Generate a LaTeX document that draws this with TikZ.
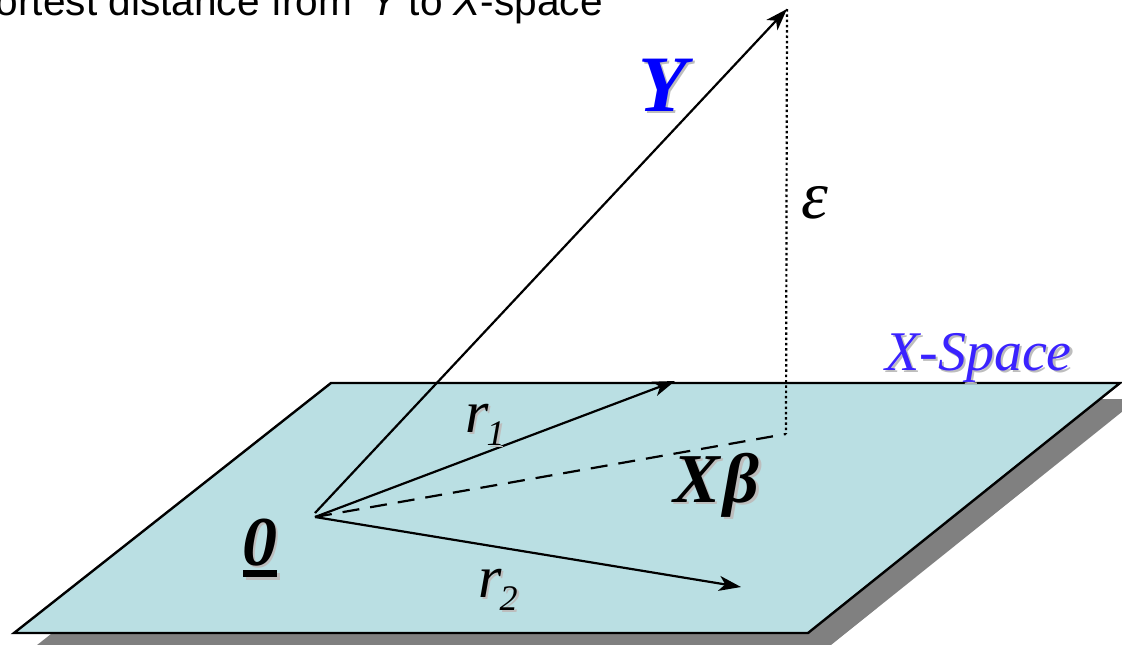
\documentclass[tikz,border=0pt]{standalone}
\usepackage{fontspec}
\setmainfont{Liberation Serif}
\newfontfamily\headfont{Liberation Sans}
\usepackage{xcolor}
\usetikzlibrary{arrows.meta}

\definecolor{planecolor}{HTML}{BADFE3}
\definecolor{planeshadow}{HTML}{808080}
\definecolor{textshadow}{HTML}{BDBDBD}
\definecolor{spacecolor}{HTML}{3A22FF}

\tikzset{
    vec/.style={-{Stealth[length=22pt,width=15pt,inset=6pt]}, line width=2.2pt},
    lbl/.style={inner sep=0pt, anchor=base west},
    lblshadow/.style={text=textshadow, xshift=2.5pt, yshift=-2.5pt},
}

% label with a grey copy behind it: options, name, position, text
\newcommand{\shadowlabel}[4]{
    \node[lbl, #1, lblshadow] at (#3) {#4};
    \node[lbl, #1] (#2) at (#3) {#4};
}
\newcommand{\sized}[1]{\fontsize{#1}{#1}\selectfont}
\newcommand{\rsub}[1]{\sized{60}\itshape r\kern-2pt\raisebox{-13pt}{\sized{36}#1}}

\begin{document}
\begin{tikzpicture}[x=1pt, y=-1pt]
    \clip (0,0) rectangle (1122,645);

    % Draw the plane and its shadow
    \fill[planeshadow] (349,399) -- (1138,399) -- (826,649) -- (32,649) -- cycle;
    \draw[fill=planecolor, line width=2.4pt, line join=miter]
        (331,383) -- (1120,383) -- (808,633) -- (14,633) -- cycle;

    % Ends of the vectors
    \coordinate (origY) at (315,513);
    \coordinate (orig) at (315,517);
    \coordinate (tipY) at (787,9);
    \coordinate (tipOne) at (675,381);
    \coordinate (tipTwo) at (741,587);
    \coordinate (foot) at (786,434);

    % Projection of Y on the plane
    \draw[line width=2.2pt, dash pattern=on 17pt off 11pt] (orig) -- (foot);
    \draw[line width=2.2pt, dash pattern=on 2.5pt off 2.8pt] (tipY) -- (foot);

    % Vectors
    \draw[vec] (origY) -- (tipY);
    \draw[vec] (orig) -- (tipOne);
    \draw[vec] (orig) -- (tipTwo);

    % Annotations
    \node[lbl, anchor=base east] (title) at (603,15)
        {\headfont\sized{40.6}Shortest distance from \,\itshape Y\upshape{} to \itshape X\upshape-space};
    \node[lbl] (eps) at (801,218) {\sized{68}\itshape ε};
    \shadowlabel{text=blue}{labelY}{638,111}{\sized{80}\bfseries\itshape Y}
    \shadowlabel{text=spacecolor}{labelSpace}{885,370}{\sized{56}\itshape X-Space}
    \shadowlabel{}{labelXb}{673,502}{\sized{70}\bfseries\itshape X\kern4ptβ}
    \shadowlabel{}{labelZero}{242,565}{\sized{70}\bfseries\itshape 0\llap{\rule[-12pt]{34pt}{7pt}}}
    \shadowlabel{}{labelOne}{465,432}{\rsub{1}}
    \shadowlabel{}{labelTwo}{478,597}{\rsub{2}}
\end{tikzpicture}
\end{document}
